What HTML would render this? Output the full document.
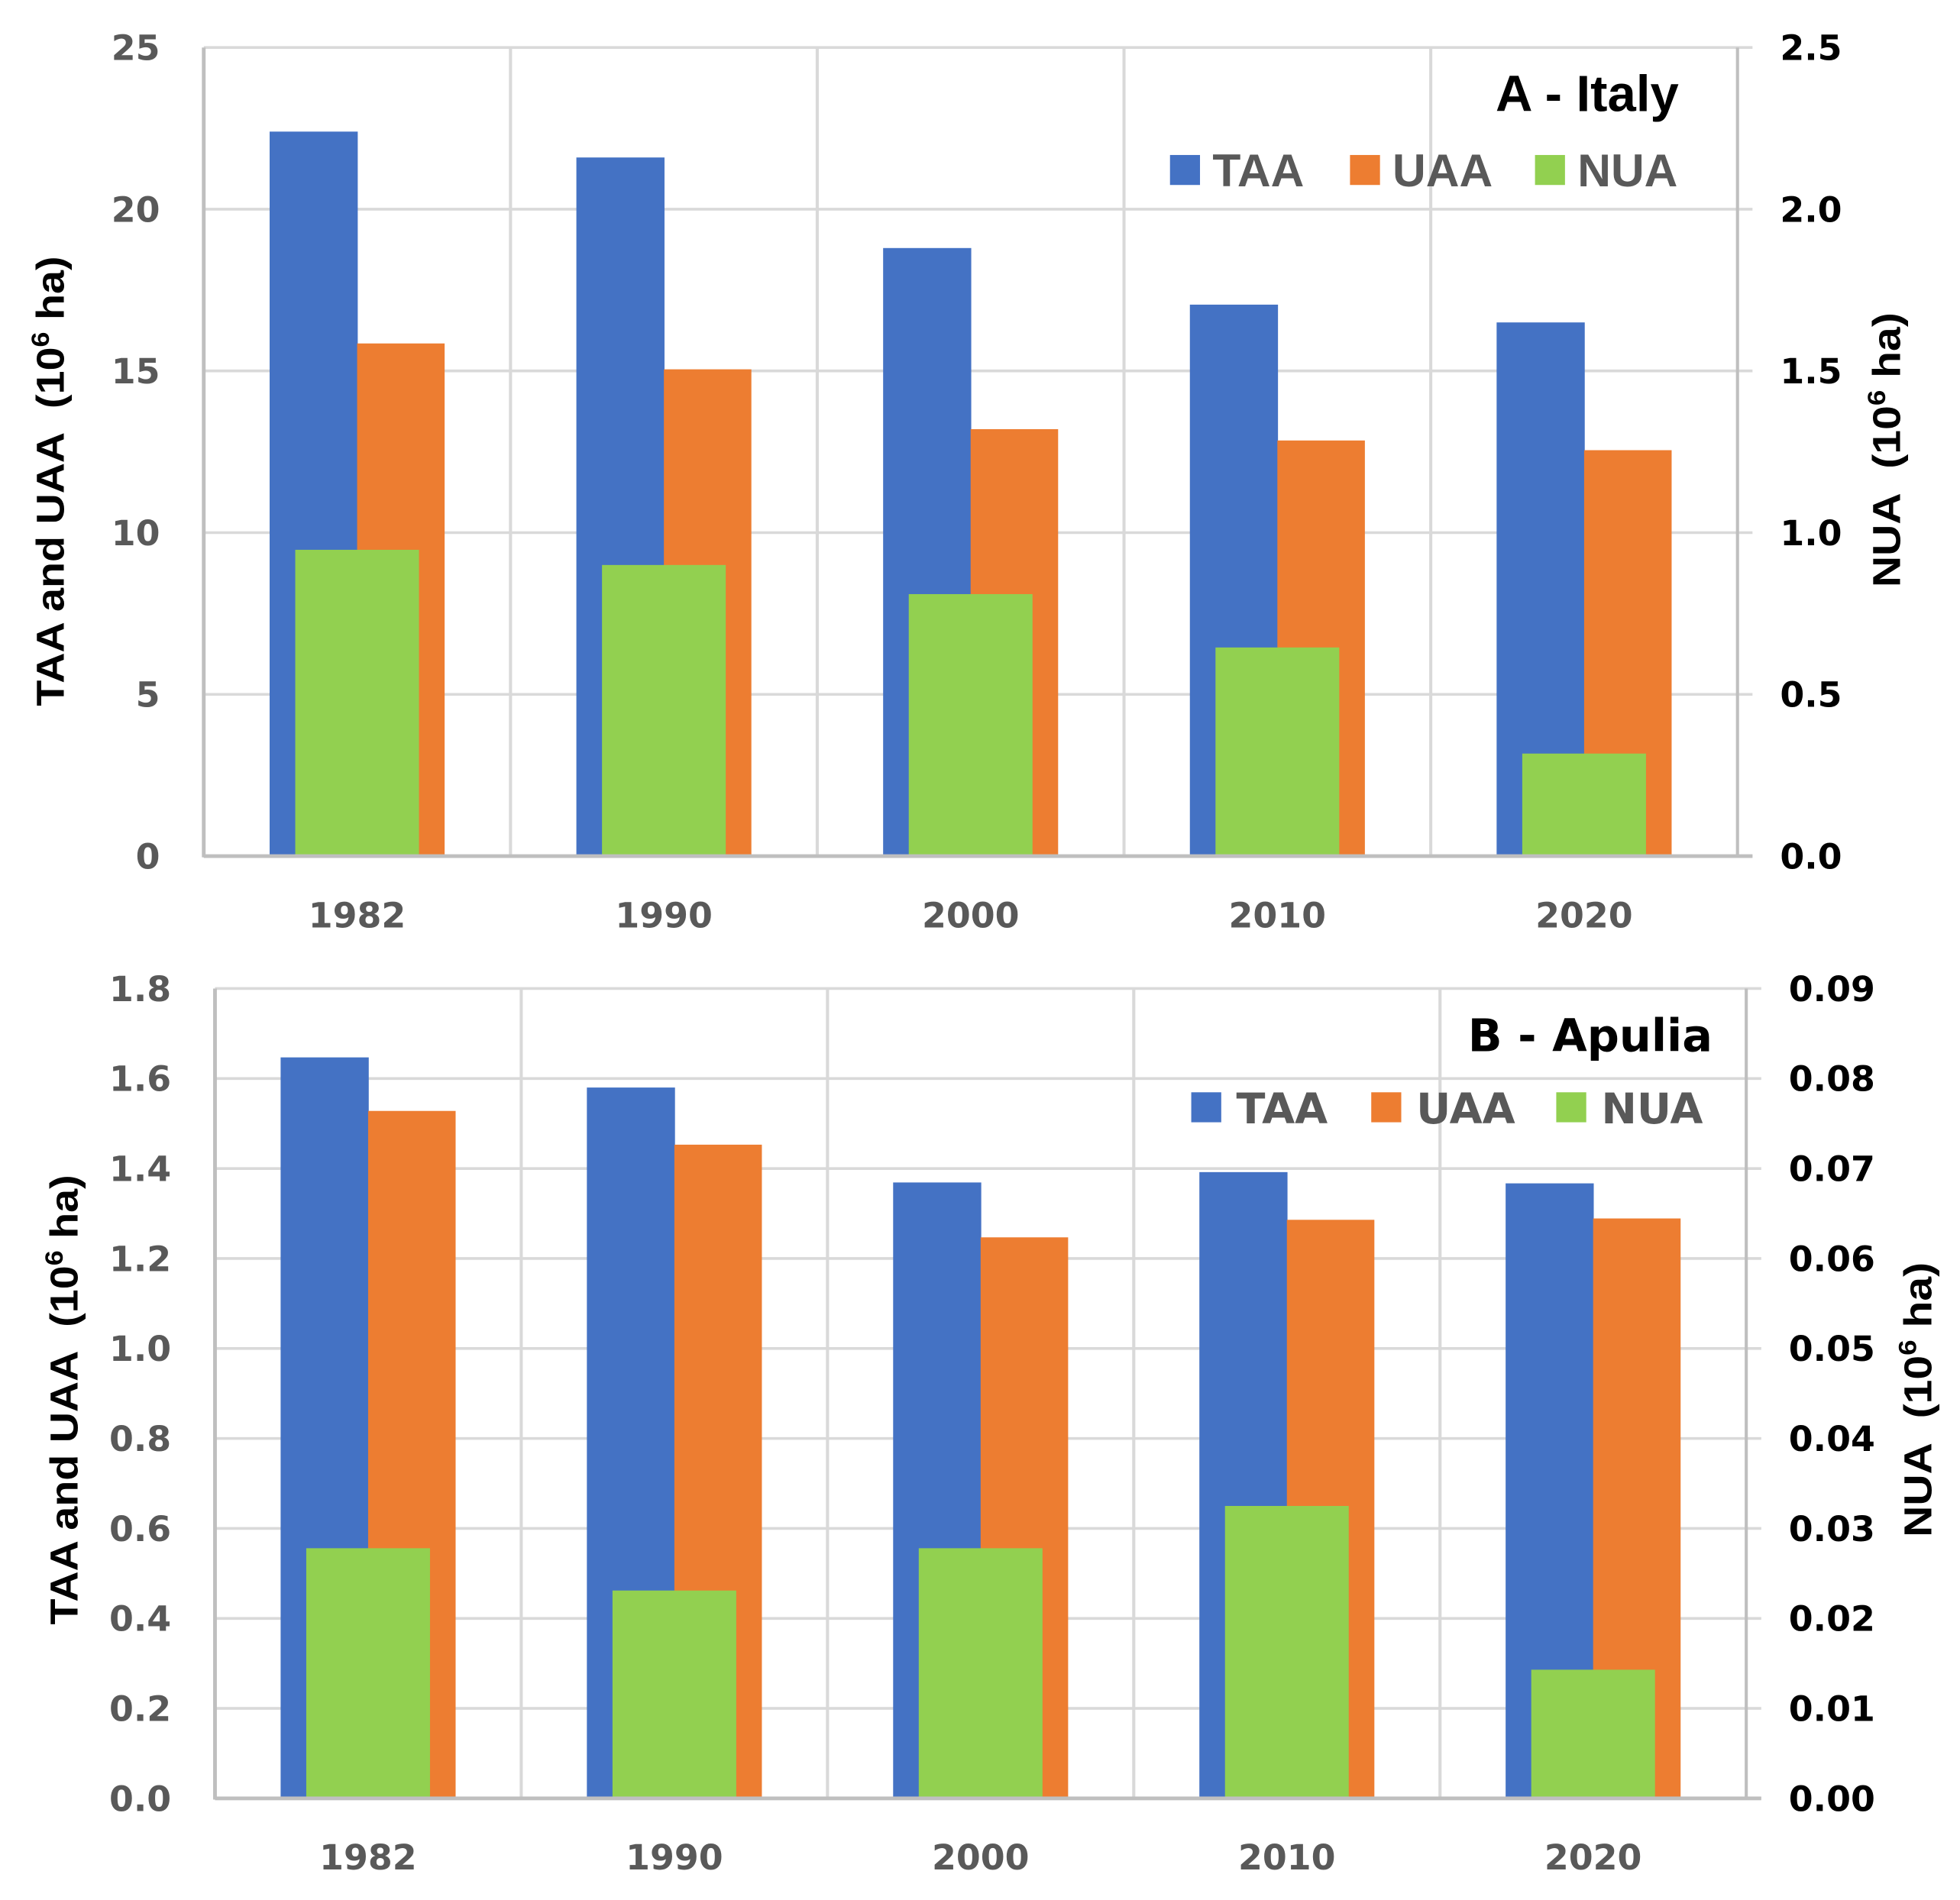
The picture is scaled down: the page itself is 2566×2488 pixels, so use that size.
<!DOCTYPE html>
<html><head><meta charset="utf-8"><style>html,body{margin:0;padding:0;background:#fff}svg{display:block}</style></head>
<body>
<svg id="fig" width="2566" height="2488" viewBox="0 0 1568 1520.3" xmlns="http://www.w3.org/2000/svg"></svg>
<script>
const categories = ["1982","1990","2000","2010","2020"];
const taaA = [22.4, 21.6, 18.8, 17.05, 16.5];
const uaaA = [15.85, 15.05, 13.2, 12.85, 12.55];
const nuaA = [0.947, 0.90, 0.81, 0.645, 0.317];
const leftTicksA = ["0","5","10","15","20","25"];
const rightTicksA = ["0.0","0.5","1.0","1.5","2.0","2.5"];
const taaB = [1.647, 1.58, 1.369, 1.392, 1.367];
const uaaB = [1.528, 1.453, 1.247, 1.286, 1.289];
const nuaB = [0.0278, 0.0231, 0.0278, 0.0325, 0.0143];
const leftTicksB = ["0.0","0.2","0.4","0.6","0.8","1.0","1.2","1.4","1.6","1.8"];
const rightTicksB = ["0.00","0.01","0.02","0.03","0.04","0.05","0.06","0.07","0.08","0.09"];

const NS="http://www.w3.org/2000/svg";
const svg=document.getElementById('fig');
function mk(tag,attrs,parent,text){const e=document.createElementNS(NS,tag);for(const k in attrs)e.setAttribute(k,attrs[k]);if(text!==undefined)e.textContent=text;(parent||svg).appendChild(e);return e;}

function panel(cfg){
  const g=mk('g',{});
  
  
  const {L,R,T,B}=cfg;
  const lmax=parseFloat(cfg.lt[cfg.lt.length-1]), rmax=parseFloat(cfg.rt[cfg.rt.length-1]);
  const yl=v=>B-(v/lmax)*(B-T), yr=v=>B-(v/rmax)*(B-T);
  const cw=(R-L)/categories.length;
  const xc=i=>L+cw*(i+0.5);
  cfg.lt.forEach((t,i)=>{const y=yl(parseFloat(t));
    const ln=mk('line',{x1:L,x2:R+12,y1:y,y2:y,stroke:'#d9d9d9','stroke-width':2.2},g);
    
    
    const tx=mk('text',{x:L-35,y:y+10,'text-anchor':'end','font-family':'DejaVu Sans, sans-serif','font-weight':'bold','font-size':28,fill:'#595959'},g,t);
    
    
  });
  cfg.rt.forEach((t,i)=>{const y=yr(parseFloat(t));
    const tx=mk('text',{x:R+34,y:y+10,'text-anchor':'start','font-family':'DejaVu Sans, sans-serif','font-weight':'bold','font-size':28,fill:'#000'},g,t);
    
    
  });
  for(let i=1;i<=categories.length;i++){const x=L+cw*i;
    const ln=mk('line',{x1:x,x2:x,y1:T,y2:B,stroke:i==categories.length?'#bfbfbf':'#d9d9d9','stroke-width':2.5},g);
    
    
  }
  categories.forEach((c,i)=>{
    const x=xc(i);
    const b1=mk('rect',{x:x-70,y:yl(cfg.taa[i]),width:70.5,height:B-yl(cfg.taa[i]),fill:'#4472c4'},g);
    
    
    const b2=mk('rect',{x:x,y:yl(cfg.uaa[i]),width:70,height:B-yl(cfg.uaa[i]),fill:'#ed7d31'},g);
    
    
    const b3=mk('rect',{x:x-49.5,y:yr(cfg.nua[i]),width:99,height:B-yr(cfg.nua[i]),fill:'#92d050'},g);
    
    
    const tx=mk('text',{x:x,y:B+57,'text-anchor':'middle','font-family':'DejaVu Sans, sans-serif','font-weight':'bold','font-size':28,fill:'#595959'},g,c);
    
    
  });
  const ax1=mk('line',{x1:L,x2:L,y1:T,y2:B+1,stroke:'#bfbfbf','stroke-width':3},g);
  
  
  const ax2=mk('line',{x1:L,x2:R+12,y1:B,y2:B,stroke:'#bfbfbf','stroke-width':3},g);
  
  
  const lt=mk('text',{transform:`translate(${cfg.ltx},${cfg.lty}) rotate(-90)`,'text-anchor':'middle','font-family':'Liberation Sans, sans-serif','font-weight':'bold','font-size':31,fill:'#000',textLength:cfg.ltl,lengthAdjust:'spacingAndGlyphs'},g);
  lt.innerHTML='TAA and UAA&#160; (10<tspan font-size="20" dy="-12">6</tspan><tspan dy="12"> ha)</tspan>';
  
  
  const rt=mk('text',{transform:`translate(${cfg.rtx},${cfg.rty}) rotate(-90)`,'text-anchor':'middle','font-family':'Liberation Sans, sans-serif','font-weight':'bold','font-size':31,fill:'#000',textLength:cfg.rtl,lengthAdjust:'spacingAndGlyphs'},g);
  rt.innerHTML='NUA&#160; (10<tspan font-size="20" dy="-12">6</tspan><tspan dy="12"> ha)</tspan>';
  
  
  const ti=mk('text',{x:cfg.titleX,y:cfg.titleY,'text-anchor':'end','font-family':cfg.lfont,'font-weight':'bold','font-size':cfg.tfs,fill:'#000'},g,cfg.title);
  
  
  const names=['TAA','UAA','NUA'],cols=['#4472c4','#ed7d31','#92d050'];
  names.forEach((n,k)=>{
    const lg=mk('g',{},g);
    
    
    const sx=cfg.legX[k];
    mk('rect',{x:sx,y:cfg.legY,width:24,height:24,fill:cols[k]},lg);
    mk('text',{x:sx+cfg.legGap,y:cfg.legY+25,'font-family':cfg.lfont,'font-weight':'bold','font-size':cfg.lfs,fill:'#595959'},lg,n);
  });
}
panel({id:'panel-a-italy',L:163,R:1390,T:38,B:685,lt:leftTicksA,rt:rightTicksA,taa:taaA,uaa:uaaA,nua:nuaA,
  ltx:51,lty:385,ltl:360,rtx:1520,rty:360,rtl:220,title:'A - Italy',titleX:1343,titleY:89,tfs:41,
  lfont:'Liberation Sans, sans-serif',lfs:37,legX:[936,1080,1228],legY:124,legGap:34});
panel({id:'panel-b-apulia',L:172,R:1397,T:791,B:1439,lt:leftTicksB,rt:rightTicksB,taa:taaB,uaa:uaaB,nua:nuaB,
  ltx:62,lty:1120,ltl:360,rtx:1545,rty:1120,rtl:220,title:'B - Apulia',titleX:1370,titleY:841,tfs:36,
  lfont:'DejaVu Sans, sans-serif',lfs:34,legX:[953,1097,1245],legY:874,legGap:36});
</script>
</body></html>
